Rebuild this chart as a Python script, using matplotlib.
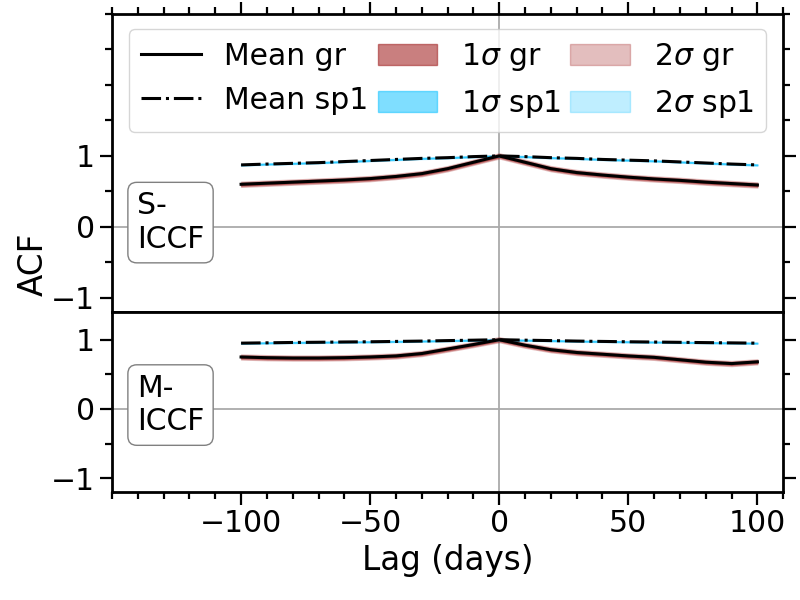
import matplotlib
matplotlib.use("Agg")
import matplotlib.pyplot as plt
from matplotlib.ticker import MultipleLocator, FixedLocator

lags = [-100, -90, -80, -70, -60, -50, -40, -30, -20, -10, 0,
        10, 20, 30, 40, 50, 60, 70, 80, 90, 100]

# S-ICCF panel
s_gr = [0.60, 0.615, 0.63, 0.645, 0.66, 0.68, 0.71, 0.75, 0.82, 0.91, 1.0,
        0.91, 0.82, 0.765, 0.73, 0.70, 0.675, 0.655, 0.63, 0.61, 0.59]
s_sp1 = [0.873, 0.885, 0.895, 0.905, 0.92, 0.935, 0.95, 0.965, 0.975, 0.99, 1.0,
         0.99, 0.975, 0.965, 0.95, 0.94, 0.93, 0.915, 0.90, 0.885, 0.873]

# M-ICCF panel
m_gr = [0.75, 0.74, 0.735, 0.735, 0.74, 0.75, 0.765, 0.80, 0.865, 0.93, 1.0,
        0.92, 0.855, 0.815, 0.79, 0.765, 0.745, 0.71, 0.675, 0.655, 0.68]
m_sp1 = [0.95, 0.955, 0.96, 0.963, 0.967, 0.97, 0.975, 0.98, 0.987, 0.993, 1.0,
         0.993, 0.987, 0.98, 0.975, 0.97, 0.966, 0.962, 0.958, 0.954, 0.95]

# half widths of the bands (1 sigma, 2 sigma)
gr_sig = (0.018, 0.036)
sp1_sig = (0.005, 0.01)

y_major = [-1, 0, 1]
x_major = [-100, -50, 0, 50, 100]

FS = 21.5
LFS = 23.5

plt.rcParams["font.family"] = "DejaVu Sans"
plt.rcParams["mathtext.fontset"] = "dejavusans"

fig = plt.figure(figsize=(8, 6), dpi=100)
ax1 = fig.add_axes([0.14, 0.48, 0.839, 0.4967])
ax2 = fig.add_axes([0.14, 0.18, 0.839, 0.30], sharex=ax1)


def draw(ax, name, gr, sp1, ylim, text_y):
    ax.axvline(0, color="#aaaaaa", lw=1.3, zorder=0)
    ax.axhline(0, color="#aaaaaa", lw=1.3, zorder=0)
    g2 = ax.fill_between(lags, [v - gr_sig[1] for v in gr], [v + gr_sig[1] for v in gr],
                         color="brown", alpha=0.3, label=r"2$\sigma$ gr")
    g1 = ax.fill_between(lags, [v - gr_sig[0] for v in gr], [v + gr_sig[0] for v in gr],
                         color="brown", alpha=0.6, label=r"1$\sigma$ gr")
    s2 = ax.fill_between(lags, [v - sp1_sig[1] for v in sp1], [v + sp1_sig[1] for v in sp1],
                         color="deepskyblue", alpha=0.25, label=r"2$\sigma$ sp1")
    s1 = ax.fill_between(lags, [v - sp1_sig[0] for v in sp1], [v + sp1_sig[0] for v in sp1],
                         color="deepskyblue", alpha=0.5, label=r"1$\sigma$ sp1")
    lg, = ax.plot(lags, gr, color="black", lw=2.2, label="Mean gr")
    ls, = ax.plot(lags, sp1, color="black", lw=2.2, ls="-.", label="Mean sp1")
    ax.set_ylim(*ylim)
    ax.set_xlim(-150, 110)
    ax.yaxis.set_major_locator(FixedLocator(y_major))
    ax.yaxis.set_minor_locator(MultipleLocator(0.5))
    ax.xaxis.set_major_locator(FixedLocator(x_major))
    ax.xaxis.set_minor_locator(MultipleLocator(10))
    ax.tick_params(which="both", direction="out", width=1.6, labelsize=FS,
                   left=True, right=True, labelright=False)
    ax.tick_params(which="major", length=9)
    ax.tick_params(which="minor", length=5)
    for sp in ax.spines.values():
        sp.set_linewidth(2)
    ax.text(0.037, text_y, name, transform=ax.transAxes, fontsize=FS,
            va="center", ha="left", zorder=5,
            bbox=dict(boxstyle="round", facecolor="white", edgecolor="gray"))
    return [lg, ls, g1, s1, g2, s2]


handles = draw(ax1, "S-\nICCF", s_gr, s_sp1, (-1.2, 3.0), 0.30)
draw(ax2, "M-\nICCF", m_gr, m_sp1, (-1.2, 1.4), 0.483)

ax1.tick_params(axis="x", which="both", top=True, bottom=False,
                labeltop=False, labelbottom=False)
ax2.tick_params(axis="x", which="both", top=False, bottom=True)

ax1.legend(handles=handles, loc="upper center", ncol=3, fontsize=FS,
           handlelength=2.0, columnspacing=0.3, handletextpad=0.8,
           labelspacing=0.5)

ax2.set_xlabel("Lag (days)", fontsize=LFS)
fig.text(0.041, 0.56, "ACF", rotation=90, fontsize=LFS, ha="center", va="center")

fig.savefig("out.png", dpi=100)
